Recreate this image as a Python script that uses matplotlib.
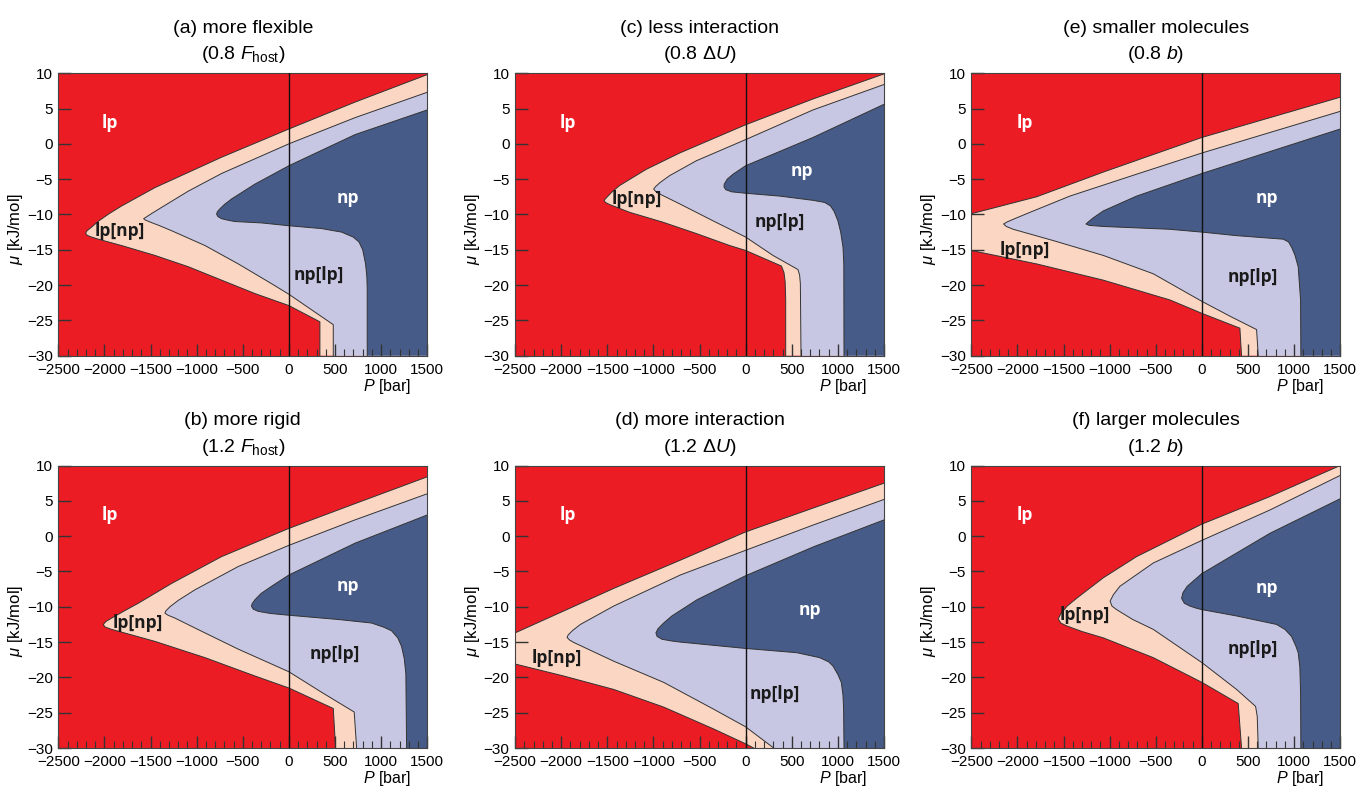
import matplotlib
matplotlib.use("Agg")
import matplotlib.pyplot as plt
from matplotlib.ticker import MultipleLocator

plt.rcParams['font.family'] = ['Liberation Sans', 'DejaVu Sans']
plt.rcParams['mathtext.fontset'] = 'custom'
plt.rcParams['mathtext.rm'] = 'Liberation Sans'
plt.rcParams['mathtext.it'] = 'Liberation Sans:italic'

# phase boundaries (P [bar], mu [kJ/mol])
# each one runs from the right/top edge, round the nose, down to the bottom

# (a) more flexible
a_lp = [(1500, 9.8), (716, 5.9), (0, 2.1), (-730, -1.9), (-1452, -6.2), (-1814, -8.8),
        (-1950, -9.9), (-2060, -10.9), (-2140, -11.8), (-2188, -12.3), (-2204, -12.65),
        (-2188, -12.95), (-2140, -13.2), (-2066, -13.5), (-1814, -14.4), (-1452, -15.8),
        (-1091, -17.4), (-730, -19.3), (-368, -21.2), (0, -22.9), (336, -25.2), (336, -30)]
a_mix = [(1500, 7.3), (716, 3.7), (0, 0.0), (-730, -4.2), (-1091, -6.7), (-1380, -9.0),
         (-1480, -9.8), (-1545, -10.35), (-1575, -10.6), (-1555, -10.8), (-1500, -11.1),
         (-1400, -11.6), (-1272, -12.3), (-910, -14.4), (-549, -17.0), (-188, -19.8),
         (0, -21.3), (246, -23.5), (481, -25.6), (481, -30)]
a_np = [(1500, 4.8), (716, 1.3), (0, -3.1), (-368, -5.7), (-621, -7.8), (-700, -8.6),
        (-748, -9.2), (-775, -9.6), (-784, -9.95), (-770, -10.3), (-730, -10.6),
        (-650, -10.85), (-585, -11.0), (-296, -11.2), (0, -11.6), (354, -12.0), (571, -12.5),
        (697, -13.2), (760, -13.9), (800, -15.0), (831, -17.0), (845, -18.8), (849, -20.5),
        (849, -30)]

# (b) more rigid
b_lp = [(1500, 8.4), (716, 4.6), (0, 1.1), (-730, -2.9), (-1272, -6.7), (-1633, -9.5),
        (-1800, -10.7), (-1922, -11.6), (-1985, -12.1), (-2012, -12.5), (-1995, -12.85),
        (-1922, -13.2), (-1700, -14.0), (-1452, -14.9), (-910, -17.2), (-368, -19.8),
        (0, -21.5), (481, -24.4), (506, -30)]
b_mix = [(1500, 6.0), (716, 2.3), (0, -1.3), (-549, -4.3), (-1019, -7.6), (-1200, -9.1),
         (-1290, -10.0), (-1335, -10.6), (-1344, -10.9), (-1310, -11.2), (-1236, -11.6),
         (-910, -13.7), (-549, -16.0), (0, -19.2), (354, -22.1), (708, -24.9), (734, -30)]
b_np = [(1500, 3.0), (716, -1.0), (0, -5.5), (-188, -7.1), (-300, -8.1), (-368, -9.0),
        (-400, -9.6), (-405, -9.95), (-385, -10.35), (-332, -10.65), (-200, -10.95),
        (0, -11.2), (535, -11.8), (896, -12.3), (1030, -12.9), (1113, -13.4), (1180, -14.4),
        (1221, -15.6), (1250, -17.3), (1268, -19.5), (1276, -30)]

# (c) less interaction
c_lp = [(1500, 9.9), (730, 6.35), (0, 2.7), (-715, -1.3), (-1076, -3.6), (-1366, -5.9),
        (-1440, -6.7), (-1500, -7.5), (-1535, -8.0), (-1520, -8.3), (-1474, -8.6),
        (-1257, -9.7), (-896, -11.1), (-535, -12.7), (-173, -14.4), (0, -15.1), (387, -17.3),
        (415, -18.2), (428, -19.5), (434, -22.1), (434, -30)]
c_mix = [(1500, 8.4), (730, 4.8), (0, 0.6), (-535, -2.4), (-824, -4.5), (-930, -5.5),
         (-980, -6.1), (-997, -6.4), (-975, -6.75), (-932, -7.1), (-715, -8.5), (-354, -10.9),
         (0, -13.2), (296, -15.8), (567, -17.8), (585, -18.6), (593, -19.8), (600, -30)]
c_np = [(1500, 5.6), (730, 0.9), (0, -3.1), (-137, -4.3), (-200, -5.0), (-232, -5.7),
        (-235, -6.1), (-215, -6.5), (-150, -6.8), (0, -7.0), (369, -7.4), (730, -8.0),
        (857, -8.3), (920, -8.8), (960, -9.6), (1000, -10.9), (1030, -12.5), (1055, -14.6),
        (1064, -17.0), (1066, -30)]

# (d) more interaction
d_lp = [(1500, 7.5), (737, 4.0), (0, 0.6), (-708, -3.4), (-1431, -7.4), (-1973, -10.6),
        (-2500, -13.7), (-2500, -18.1), (-1973, -19.8), (-1431, -21.7), (-889, -24.2),
        (-347, -27.3), (0, -29.4), (87, -30)]
d_mix = [(1500, 5.2), (737, 1.6), (0, -2.0), (-708, -5.5), (-1431, -9.9), (-1792, -12.5),
         (-1880, -13.4), (-1925, -14.0), (-1936, -14.35), (-1910, -14.7), (-1864, -15.05),
         (-1431, -17.7), (-889, -20.7), (-347, -24.5), (0, -27.0), (304, -30)]
d_np = [(1500, 2.3), (737, -1.5), (0, -5.6), (-527, -9.0), (-800, -11.3), (-889, -12.3),
        (-950, -13.1), (-973, -13.7), (-960, -14.2), (-907, -14.6), (-800, -14.85),
        (-708, -15.0), (0, -15.9), (553, -16.5), (802, -17.2), (900, -17.8), (947, -18.4),
        (1000, -19.6), (1037, -20.7), (1055, -22.5), (1062, -24.5), (1066, -30)]

# (e) smaller molecules
e_lp = [(1500, 6.6), (737, 3.7), (0, 0.9), (-1069, -4.0), (-1792, -7.5), (-2500, -9.9),
        (-2500, -15.1), (-1792, -17.0), (-1069, -19.3), (-347, -22.1), (0, -24.0),
        (412, -26.1), (430, -30)]
e_mix = [(1500, 4.6), (737, 1.6), (0, -1.3), (-708, -4.3), (-1431, -7.4), (-1864, -9.7),
         (-2030, -10.6), (-2110, -11.05), (-2150, -11.35), (-2120, -11.7), (-2045, -12.1),
         (-1611, -13.7), (-1069, -15.8), (-527, -18.4), (0, -22.3), (304, -24.4),
         (593, -26.3), (611, -30)]
e_np = [(1500, 2.1), (737, -1.1), (0, -4.2), (-708, -7.4), (-1069, -9.5), (-1180, -10.5),
        (-1235, -11.1), (-1257, -11.35), (-1220, -11.55), (-1069, -11.7), (-347, -12.1),
        (0, -12.5), (376, -13.0), (882, -13.5), (940, -13.9), (975, -14.7), (1010, -15.8),
        (1044, -17.4), (1070, -22.1), (1073, -30)]

# (f) larger molecules
f_lp = [(1500, 10.0), (737, 5.6), (0, 1.7), (-708, -2.9), (-1069, -5.9), (-1358, -8.8),
        (-1460, -9.9), (-1530, -11.0), (-1557, -11.7), (-1530, -12.3), (-1467, -12.7),
        (-1300, -13.5), (-1069, -14.4), (-527, -17.2), (0, -20.7), (394, -23.7), (430, -30)]
f_mix = [(1500, 8.6), (737, 3.7), (0, -0.6), (-527, -3.8), (-889, -7.1), (-960, -8.3),
         (-995, -9.2), (-975, -9.9), (-925, -10.4), (-750, -11.8), (-527, -13.2), (0, -17.9),
         (376, -21.7), (582, -24.1), (600, -25.5), (611, -30)]
f_np = [(1500, 5.3), (737, 0.4), (0, -5.3), (-159, -7.1), (-205, -8.0), (-220, -8.8),
        (-190, -9.5), (-130, -9.9), (-60, -10.2), (0, -10.4), (376, -11.3), (809, -12.5),
        (900, -13.2), (972, -14.2), (1020, -15.6), (1044, -16.5), (1062, -18.5),
        (1070, -22.1), (1073, -30)]

titles_1 = ["(a) more flexible", "(b) more rigid", "(c) less interaction",
            "(d) more interaction", "(e) smaller molecules", "(f) larger molecules"]
titles_2 = [r"(0.8 $F_{\mathrm{host}}$)", r"(1.2 $F_{\mathrm{host}}$)",
            r"(0.8 $\Delta U$)", r"(1.2 $\Delta U$)",
            r"(0.8 $b$)", r"(1.2 $b$)"]
boundaries = [(a_lp, a_mix, a_np), (b_lp, b_mix, b_np), (c_lp, c_mix, c_np),
              (d_lp, d_mix, d_np), (e_lp, e_mix, e_np), (f_lp, f_mix, f_np)]

# label positions (P, mu): lp, lp[np], np, np[lp]
label_pos = [
    [(-1940, 3.0), (-1830, -12.3), (640, -7.6), (320, -18.6)],
    [(-1940, 3.0), (-1633, -12.3), (643, -7.1), (499, -16.7)],
    [(-1926, 3.0), (-1185, -7.8), (604, -3.8), (369, -11.1)],
    [(-1926, 3.0), (-2045, -17.2), (701, -10.4), (315, -22.4)],
    [(-1918, 3.0), (-1918, -15.1), (701, -7.6), (557, -18.8)],
    [(-1918, 3.0), (-1268, -11.1), (701, -7.35), (557, -16.0)],
]
label_text = ["lp", "lp[np]", "np", "np[lp]"]
label_color = ["white", "#1a1a1a", "white", "#1a1a1a"]

red = '#ec1c24'
fills = ['#fbd6c3', '#c8c7e3', '#465b87']

fig = plt.figure(figsize=(13.59, 7.87), dpi=100)
lefts = [0.0429, 0.379, 0.7147]
bottoms = [0.548, 0.0495]

for i in range(6):
    col, row = i // 2, i % 2
    ax = fig.add_axes([lefts[col], bottoms[row], 0.2715, 0.359])
    ax.set_facecolor(red)

    for bnd, c in zip(boundaries[i], fills):
        P = [p for p, m in bnd]
        mu = [m for p, m in bnd]
        ax.fill(P + [1500], mu + [-30], color=c, lw=0, zorder=1)
        ax.plot(P, mu, color='#333333', lw=0.7, zorder=2, solid_joinstyle='round')

    ax.axvline(0, color='#111111', lw=1, zorder=3)

    for (x, y), t, tc in zip(label_pos[i], label_text, label_color):
        ax.text(x, y, t, color=tc, fontsize=12.5, fontweight='bold',
                family=['Open Sans', 'DejaVu Sans'],
                ha='center', va='center', zorder=4)

    ax.set_xlim(-2500, 1500)
    ax.set_ylim(-30, 10)
    ax.xaxis.set_major_locator(MultipleLocator(500))
    ax.xaxis.set_minor_locator(MultipleLocator(100))
    ax.yaxis.set_major_locator(MultipleLocator(5))
    ax.tick_params(which='major', direction='in', length=9, width=1, color='#333333',
                   labelsize=11, pad=4)
    ax.tick_params(axis='x', which='major', pad=5)
    ax.tick_params(which='minor', direction='in', length=5, width=0.8, color='#333333')
    for s in ax.spines.values():
        s.set_color('#444444')
        s.set_linewidth(0.8)

    ax.set_xlabel(r"$P$ [bar]", fontsize=11.5, labelpad=0)
    ax.xaxis.label.set_x(0.89)
    ax.set_ylabel(r"$\mu$ [kJ/mol]", fontsize=12, labelpad=1)
    ax.yaxis.label.set_y(0.45)
    ax.set_title(titles_1[i] + "\n" + titles_2[i], fontsize=14, pad=10, linespacing=1.5)

fig.savefig("out.png", dpi=100)
